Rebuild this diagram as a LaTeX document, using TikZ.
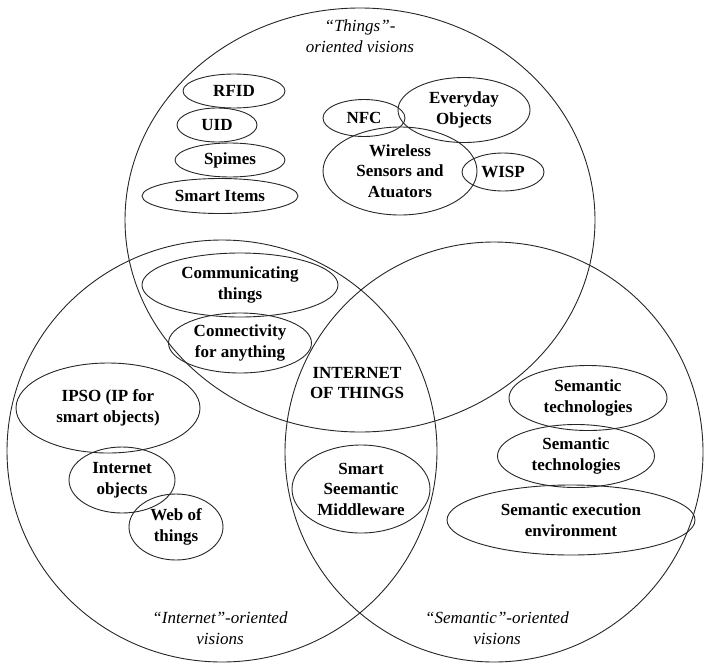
\documentclass[tikz,border=0pt]{standalone}
\usepackage{fontspec}
\setmainfont{Liberation Serif}
\usetikzlibrary{shapes.geometric}

\tikzset{
	vision/.style={draw=black!85, ellipse, inner sep=0pt, line width=0.9pt},
	item/.style={draw=black!85, ellipse, inner sep=0pt, line width=0.9pt, align=center,
		font=\fontsize{17}{20.5}\selectfont\bfseries},
	caption/.style={align=center, inner sep=0pt, font=\fontsize{17}{21}\selectfont\itshape},
}

\begin{document}
\begin{tikzpicture}[x=1pt,y=-1pt]
	\useasboundingbox (0,0) rectangle (706,664);

	% the three visions
	\node[vision, minimum width=470pt, minimum height=424pt] (things) at (360,220) {};
	\node[vision, minimum width=430pt, minimum height=422pt] (internet) at (222,451) {};
	\node[vision, minimum width=418pt, minimum height=420pt] (semantic) at (494,452) {};

	\node[caption] (thingslabel) at (360,36) {“Things”-\\oriented visions};
	\node[caption] (internetlabel) at (220,628) {“Internet”-oriented\\visions};
	\node[caption] (semanticlabel) at (497,628) {“Semantic”-oriented\\visions};

	% things
	\node[item, minimum width=102pt, minimum height=34pt] (rfid) at (234,91) {RFID};
	\node[item, minimum width=80pt, minimum height=34pt] (uid) at (217,125) {UID};
	\node[item, minimum width=110pt, minimum height=34pt] (spimes) at (230,160) {Spimes};
	\node[item, minimum width=156pt, minimum height=35pt] (smartitems) at (220,196) {Smart Items};
	\node[item, minimum width=82pt, minimum height=37pt] (nfc) at (364,118) {NFC};
	\node[item, minimum width=132pt, minimum height=65pt] (everyday) at (464,110) {Everyday\\Objects};
	\node[item, minimum width=154pt, minimum height=88pt] (wsn) at (400,171) {Wireless\\Sensors and\\Atuators};
	\node[item, minimum width=82pt, minimum height=38pt] (wisp) at (503,172) {WISP};

	% things and internet
	\node[item, minimum width=196pt, minimum height=64pt] (comm) at (240,285) {Communicating\\things};
	\node[item, minimum width=143pt, minimum height=60pt] (conn) at (240,343) {Connectivity\\for anything};

	% internet
	\node[item, minimum width=184pt, minimum height=90pt] (ipso) at (108,408) {IPSO (IP for\\smart objects)};
	\node[item, minimum width=106pt, minimum height=66pt] (inetobj) at (122,480) {Internet\\objects};
	\node[item, minimum width=94pt, minimum height=66pt] (web) at (176,527) {Web of\\things};

	% centre
	\node[align=center, inner sep=0pt, font=\fontsize{17}{20.5}\selectfont\bfseries] (iot) at (357,383) {INTERNET\\OF THINGS};
	\node[item, minimum width=138pt, minimum height=88pt] (middleware) at (361,489) {Smart\\Seemantic\\Middleware};

	% semantic
	\node[item, minimum width=158pt, minimum height=65pt] (semtech) at (588,398) {Semantic\\technologies};
	\node[item, minimum width=157pt, minimum height=63pt] (semtechb) at (576,456) {Semantic\\technologies};
	\node[item, minimum width=248pt, minimum height=70pt] (semexec) at (571,520) {Semantic execution\\environment};

\end{tikzpicture}
\end{document}
